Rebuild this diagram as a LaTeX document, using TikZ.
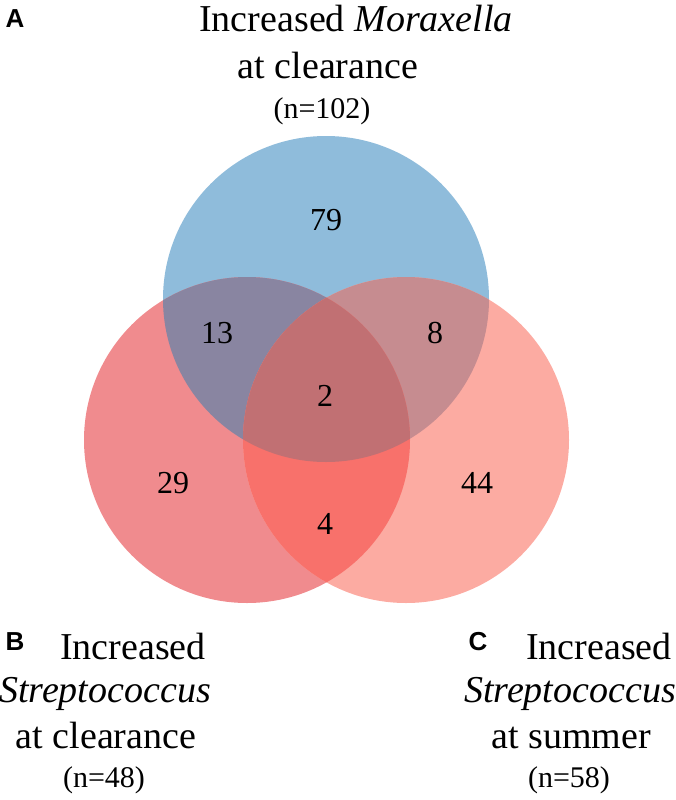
\documentclass[tikz,border=0pt]{standalone}
\usepackage{fontspec}
\setmainfont{Liberation Serif}
\newfontfamily\labfont{Liberation Sans}
\definecolor{blueonly}{RGB}{143,188,219}
\definecolor{leftonly}{RGB}{240,139,142}
\definecolor{rightonly}{RGB}{252,171,162}
\definecolor{bluleft}{RGB}{137,133,161}
\definecolor{bluright}{RGB}{198,140,144}
\definecolor{leftright}{RGB}{248,113,107}
\definecolor{allthree}{RGB}{193,112,115}
\tikzset{
  title/.style={anchor=base,inner sep=0pt,font=\fontsize{38}{46}\selectfont},
  nlab/.style={anchor=base,inner sep=0pt,font=\fontsize{30}{36}\selectfont},
  num/.style={anchor=base,inner sep=0pt,font=\fontsize{32}{38}\selectfont},
  panel/.style={anchor=center,inner sep=0pt,font=\labfont\bfseries\fontsize{26}{30}\selectfont},
}
\begin{document}
\begin{tikzpicture}[x=1pt,y=-1pt]
\useasboundingbox (0,0) rectangle (676,800);
\coordinate (cB) at (326,299);
\coordinate (cL) at (247,440);
\coordinate (cR) at (406,440);
\def\rad{163pt}
\fill[blueonly] (cB) circle[radius=\rad];
\fill[leftonly] (cL) circle[radius=\rad];
\fill[rightonly] (cR) circle[radius=\rad];
\begin{scope}\clip (cB) circle[radius=\rad]; \fill[bluleft] (cL) circle[radius=\rad];\end{scope}
\begin{scope}\clip (cB) circle[radius=\rad]; \fill[bluright] (cR) circle[radius=\rad];\end{scope}
\begin{scope}\clip (cL) circle[radius=\rad]; \fill[leftright] (cR) circle[radius=\rad];\end{scope}
\begin{scope}\clip (cB) circle[radius=\rad]; \clip (cL) circle[radius=\rad]; \fill[allthree] (cR) circle[radius=\rad];\end{scope}
% numbers
\node[num] (n79) at (326,230) {79};
\node[num] (n13) at (217,343) {13};
\node[num] (n8) at (435,343) {8};
\node[num] (n2) at (325,406) {2};
\node[num] (n29) at (173,493) {29};
\node[num] (n44) at (477,493) {44};
\node[num] (n4) at (325,534) {4};
% top label
\node[panel] (pA) at (15,19) {A};
\node[title] (t1) at (356,32) {Increased \textit{Moraxella}};
\node[title] (t2) at (328,78) {at clearance};
\node[nlab] (t3) at (322,118) {(n=102)};
% bottom left
\node[panel] (pB) at (15,642) {B};
\node[title] (b1) at (133,659) {Increased};
\node[title] (b2) at (105,702) {\textit{Streptococcus}};
\node[title] (b3) at (106,748) {at clearance};
\node[nlab] (b4) at (104,787) {(n=48)};
% bottom right
\node[panel] (pC) at (478,642) {C};
\node[title] (c1) at (599,659) {Increased};
\node[title] (c2) at (570,702) {\textit{Streptococcus}};
\node[title] (c3) at (571,748) {at summer};
\node[nlab] (c4) at (569,787) {(n=58)};
\end{tikzpicture}
\end{document}
